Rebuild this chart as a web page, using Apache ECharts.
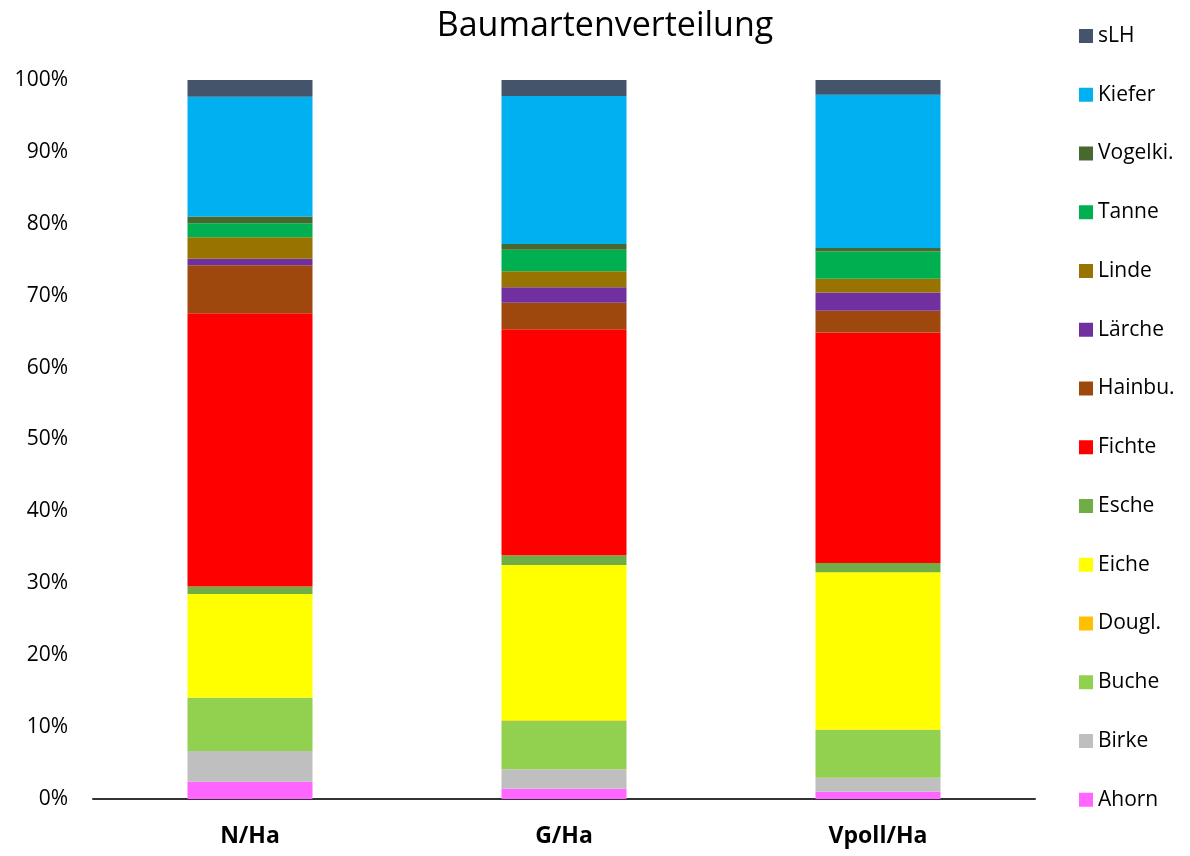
<!DOCTYPE html>
<html>
<head>
<meta charset="utf-8">
<script src="https://cdn.jsdelivr.net/npm/echarts@6/dist/echarts.min.js"></script>
<style>html,body{margin:0;padding:0;background:#fff}#c{width:1190px;height:856px}</style>
</head>
<body>
<div id="c"></div>
<script>
const categories = ['N/Ha', 'G/Ha', 'Vpoll/Ha'];
const seriesNames = ['Ahorn','Birke','Buche','Dougl.','Eiche','Esche','Fichte','Hainbu.','Lärche','Linde','Tanne','Vogelki.','Kiefer','sLH'];
const Ahorn   = [2.4, 1.43, 1.02];
const Birke   = [4.27, 2.70, 1.95];
const Buche   = [7.41, 6.72, 6.63];
const Dougl   = [0.05, 0.1, 0.05];
const Eiche   = [14.38, 21.6, 21.9];
const Esche   = [1.06, 1.35, 1.29];
const Fichte  = [38.0, 31.43, 32.03];
const Hainbu  = [6.68, 3.70, 3.02];
const Laerche = [0.89, 2.14, 2.55];
const Linde   = [3.0, 2.23, 1.91];
const Tanne   = [1.95, 3.0, 3.80];
const Vogelki = [0.93, 0.79, 0.47];
const Kiefer  = [16.65, 20.58, 21.32];
const sLH     = [2.41, 2.23, 2.09];
const yTicks = [0,10,20,30,40,50,60,70,80,90,100];

const values = [Ahorn,Birke,Buche,Dougl,Eiche,Esche,Fichte,Hainbu,Laerche,Linde,Tanne,Vogelki,Kiefer,sLH];
const colors = ['#FF66FF','#BFBFBF','#92D050','#FFC000','#FFFF00','#70AD47','#FF0000','#9E480E','#7030A0','#997300','#00B050','#476930','#00B0F0','#44546A'];
const FONT = '"Open Sans", "Noto Sans", sans-serif';

const chart = echarts.init(document.getElementById('c'));
chart.setOption({
  animation: false,
  backgroundColor: '#fff',
  title: {
    text: 'Baumartenverteilung',
    left: 600, top: 4, textAlign: 'center',
    textStyle: {fontFamily: FONT, fontSize: 34, fontWeight: 'normal', color: '#000'}
  },
  legend: {
    orient: 'vertical',
    left: 1074, top: 20,
    data: seriesNames.slice().reverse(),
    itemWidth: 14, itemHeight: 14, itemGap: 36.75,
    icon: 'rect',
    textStyle: {fontFamily: FONT, fontSize: 21, color: '#000', lineHeight: 22, padding: [0,0,0,0]}
  },
  grid: {left: 93, right: 155, top: 80, bottom: 57},
  xAxis: {
    type: 'category', data: categories,
    axisLine: {lineStyle: {color: '#333', width: 2}},
    axisTick: {show: false},
    axisLabel: {fontFamily: FONT, fontSize: 23, fontWeight: 'bold', color: '#000', margin: 26}
  },
  yAxis: {
    type: 'value', min: 0, max: 100, interval: 10,
    splitLine: {show: false},
    axisLine: {show: false}, axisTick: {show: false},
    axisLabel: {fontFamily: FONT, fontSize: 21, color: '#000', margin: 25,
      formatter: v => yTicks.includes(v) ? v + '%' : ''}
  },
  series: seriesNames.map((n, i) => ({
    name: n, type: 'bar', stack: 'total', data: values[i], barWidth: 125,
    itemStyle: {color: colors[i]}
  }))
});
</script>
</body>
</html>
